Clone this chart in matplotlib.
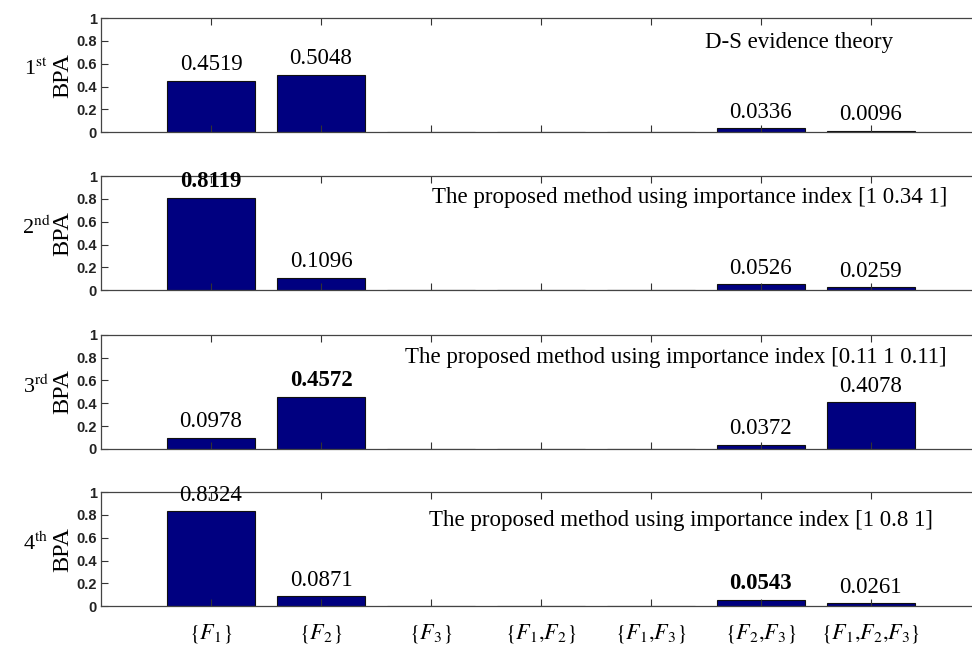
import matplotlib
matplotlib.use('Agg')
import matplotlib.pyplot as plt

# BPA values for each focal element, one list per fusion result
focal_sets = [r'$\{F_1\}$', r'$\{F_2\}$', r'$\{F_3\}$', r'$\{F_1{,}F_2\}$',
              r'$\{F_1{,}F_3\}$', r'$\{F_2{,}F_3\}$', r'$\{F_1{,}F_2{,}F_3\}$']
bpa_1st = [0.4519, 0.5048, 0, 0, 0, 0.0336, 0.0096]
bpa_2nd = [0.8119, 0.1096, 0, 0, 0, 0.0526, 0.0259]
bpa_3rd = [0.0978, 0.4572, 0, 0, 0, 0.0372, 0.4078]
bpa_4th = [0.8324, 0.0871, 0, 0, 0, 0.0543, 0.0261]
row_names = [r'1$^{\rm st}$', r'2$^{\rm nd}$', r'3$^{\rm rd}$', r'4$^{\rm th}$']
titles = ['D-S evidence theory',
          'The proposed method using importance index [1 0.34 1]',
          'The proposed method using importance index [0.11 1 0.11]',
          'The proposed method using importance index [1 0.8 1]']
bold_idx = [None, 0, 1, 5]  # which value label is bold in each row
yticks = [0, 0.2, 0.4, 0.6, 0.8, 1]
ytick_labels = ['0', '0.2', '0.4', '0.6', '0.8', '1']

plt.rcParams['mathtext.fontset'] = 'stix'
plt.rcParams['font.family'] = 'Liberation Serif'

fig = plt.figure(figsize=(9.72, 6.45), dpi=100)

all_bpa = [bpa_1st, bpa_2nd, bpa_3rd, bpa_4th]
bottoms = [0.795, 0.550, 0.304, 0.060]
title_pos = [(6.35, 0.79), (5.35, 0.81), (5.23, 0.80), (5.27, 0.75)]
x = list(range(1, len(focal_sets) + 1))

for i, vals in enumerate(all_bpa):
    ax = fig.add_axes([0.104, bottoms[i], 0.905, 0.177])
    ax.bar(x, vals, width=0.8, color='#000080', edgecolor='#101010', linewidth=0.8)
    ax.set_xlim(0, 8)
    ax.set_ylim(0, 1)
    ax.set_xticks(x)
    ax.set_yticks(yticks)
    ax.set_yticklabels(ytick_labels, family='Liberation Sans', fontsize=10.5,
                       fontweight='bold')
    ax.tick_params(direction='in', length=5, width=0.8, top=True, colors='#333333')
    ax.tick_params(axis='y', labelcolor='#222222', pad=3)
    if i == 3:
        ax.set_xticklabels(focal_sets, fontsize=16)
        ax.tick_params(axis='x', pad=11, labelcolor='black')
    else:
        ax.set_xticklabels([])
    for s in ax.spines.values():
        s.set_color('#444444')
        s.set_linewidth(0.9)

    for j, v in enumerate(vals):
        if v == 0:
            continue
        ax.text(x[j], v + 0.05, '%.4f' % v, ha='center', va='bottom', fontsize=16.5,
                fontweight='bold' if j == bold_idx[i] else 'normal')

    tx, ty = title_pos[i]
    ax.text(tx, ty, titles[i], ha='center', va='center', fontsize=16.5)

    ax.set_ylabel('BPA', fontsize=17.5)
    ax.yaxis.set_label_coords(-0.032, 0.5)
    fig.text(0.037, bottoms[i] + 0.177 * 0.55, row_names[i], ha='center', va='center',
             fontsize=16)

fig.savefig('out.png', dpi=100)
